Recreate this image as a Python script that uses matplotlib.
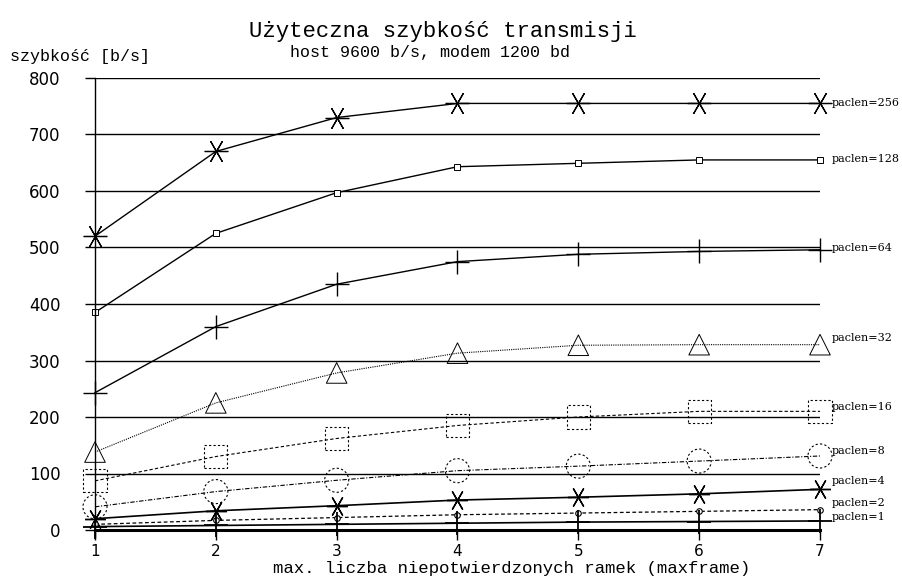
import matplotlib.pyplot as plt

maxframe = [1, 2, 3, 4, 5, 6, 7]

p256 = [520, 670, 730, 755, 755, 755, 755]
p128 = [385, 525, 597, 643, 649, 655, 655]
p64 = [243, 360, 435, 475, 488, 493, 496]
p32 = [138, 225, 278, 313, 327, 328, 328]
p16 = [87, 130, 162, 185, 200, 210, 210]
p8 = [41, 68, 88, 105, 113, 122, 131]
p4 = [20, 34, 43, 53, 58, 64, 72]
p2 = [10, 17, 22, 27, 30, 33, 36]
p1 = [6, 8, 10, 12, 14, 15, 16]

labels = ["paclen=256", "paclen=128", "paclen=64", "paclen=32", "paclen=16",
          "paclen=8", "paclen=4", "paclen=2", "paclen=1"]
label_y = [756, 657, 499, 340, 218, 140, 87, 48, 23]

yticks = [0, 100, 200, 300, 400, 500, 600, 700, 800]

fig = plt.figure(figsize=(9.03, 5.83), dpi=100)
ax = fig.add_axes([95 / 903, 53 / 583, 725 / 903, 452 / 583])
ax.set_xlim(1, 7)
ax.set_ylim(0, 800)

# linie siatki
for v in yticks[1:]:
    ax.axhline(v, color="black", lw=1.0, zorder=1)
ax.axhline(0, color="black", lw=2.2, zorder=1, clip_on=False)

star = (6, 2, 90)
ax.plot(maxframe, p256, color="black", lw=1.0, marker=star, ms=17, mew=0.9, clip_on=False)
ax.plot(maxframe, p128, color="black", lw=1.0, marker="s", ms=4, mfc="white", mew=0.7, clip_on=False)
ax.plot(maxframe, p64, color="black", lw=1.0, marker="+", ms=17, mew=1.0, clip_on=False)
ax.plot(maxframe, p32, color="black", lw=0.8, ls=(0, (1, 1)), clip_on=False)
ax.scatter(maxframe, p32, marker="^", s=220, facecolors="none", edgecolors="black", linewidths=0.7, clip_on=False, zorder=3)
ax.plot(maxframe, p16, color="black", lw=0.8, ls=(0, (3, 2)), clip_on=False)
ax.scatter(maxframe, p16, marker="s", s=280, facecolors="none", edgecolors="black", linewidths=0.8, linestyle=(0, (2, 2)), clip_on=False, zorder=3)
ax.plot(maxframe, p8, color="black", lw=0.8, ls=(0, (4, 1.5, 1, 1.5)), clip_on=False)
ax.scatter(maxframe, p8, marker="o", s=300, facecolors="none", edgecolors="black", linewidths=0.8, linestyle=(0, (2, 2)), clip_on=False, zorder=3)
ax.plot(maxframe, p4, color="black", lw=1.2, marker=star, ms=15, mew=1.0, clip_on=False)
ax.plot(maxframe, p2, color="black", lw=0.9, ls=(0, (3, 2)), marker="o", ms=4, mfc="white", mew=0.8, clip_on=False)
ax.plot(maxframe, p1, color="black", lw=1.2, marker="+", ms=17, mew=1.3, clip_on=False)

for lab, y in zip(labels, label_y):
    ax.text(7.1, y, lab, fontsize=8, family="DejaVu Serif", va="center", ha="left")

for s in ["top", "right", "bottom"]:
    ax.spines[s].set_visible(False)
ax.spines["left"].set_linewidth(1.0)
ax.spines["left"].set_bounds(-12, 800)

ax.set_xticks(maxframe)
ax.set_yticks(yticks)
ax.tick_params(axis="y", direction="out", length=7, width=1.0, pad=18, labelsize=12)
ax.tick_params(axis="x", direction="out", length=7, width=1.0, pad=3, labelsize=11)

fig.text(512 / 903, 1 - 568 / 583, "max. liczba niepotwierdzonych ramek (maxframe)", family="Liberation Mono", fontsize=12.5, va="center", ha="center")
fig.text(10 / 903, 1 - 57 / 583, "szybkość [b/s]", family="Liberation Mono", fontsize=12, va="center", ha="left")
fig.text(443 / 903, 1 - 31 / 583, "Użyteczna szybkość transmisji", family="Liberation Mono", fontsize=16, va="center", ha="center")
fig.text(430 / 903, 1 - 52 / 583, "host 9600 b/s, modem 1200 bd", family="Liberation Mono", fontsize=12, va="center", ha="center")

fig.savefig("out.png", dpi=100)
